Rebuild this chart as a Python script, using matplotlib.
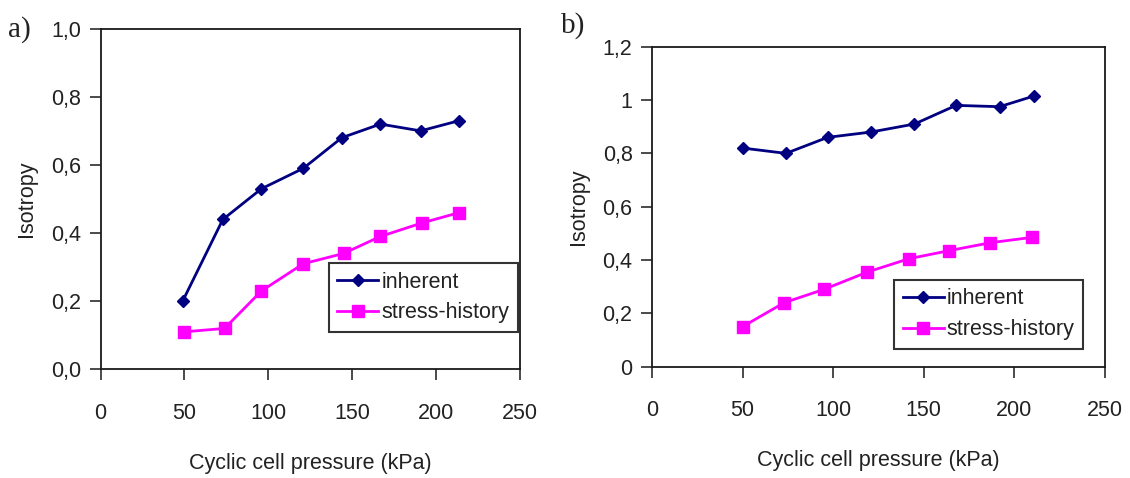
import matplotlib
matplotlib.use("Agg")
import matplotlib.pyplot as plt
from matplotlib import font_manager

names = {f.name for f in font_manager.fontManager.ttflist}
SANS = ['Liberation Sans Narrow', 'Liberation Sans'] if 'Liberation Sans Narrow' in names else ['Liberation Sans']
SERIF = ['Liberation Serif', 'DejaVu Serif']

# ---- data ----
x_a_inh = [49, 73, 96, 121, 144, 167, 191, 214]
y_a_inh = [0.20, 0.44, 0.53, 0.59, 0.68, 0.72, 0.70, 0.73]
x_a_str = [50, 74, 96, 121, 145, 167, 192, 214]
y_a_str = [0.11, 0.12, 0.23, 0.31, 0.34, 0.39, 0.43, 0.46]

x_b_inh = [50, 74, 97, 121, 145, 168, 192, 211]
y_b_inh = [0.82, 0.80, 0.86, 0.88, 0.91, 0.98, 0.975, 1.015]
x_b_str = [50, 73, 95, 119, 142, 164, 187, 210]
y_b_str = [0.15, 0.24, 0.29, 0.355, 0.405, 0.435, 0.465, 0.485]

x_ticks = [0, 50, 100, 150, 200, 250]
y_ticks_a = [0.0, 0.2, 0.4, 0.6, 0.8, 1.0]
y_labels_a = ['0,0', '0,2', '0,4', '0,6', '0,8', '1,0']
y_ticks_b = [0, 0.2, 0.4, 0.6, 0.8, 1.0, 1.2]
y_labels_b = ['0', '0,2', '0,4', '0,6', '0,8', '1', '1,2']

series_names = ['inherent', 'stress-history']
NAVY = '#000080'
MAG = '#FF00FF'
TXT = '#222222'
FS = 15.5

W, H = 1130, 478
fig = plt.figure(figsize=(W / 100, H / 100), dpi=100)

def px_axes(l, r, t, b):
    return fig.add_axes([l / W, 1 - b / H, (r - l) / W, (b - t) / H])

ax_a = px_axes(100.5, 519.5, 28.7, 369.3)
ax_b = px_axes(652, 1104.5, 46.7, 366.7)

def style(ax, yt, yl, ylim, leg_anchor):
    ax.set_xlim(0, 250)
    ax.set_ylim(*ylim)
    ax.set_xticks(x_ticks)
    ax.set_xticklabels([str(v) for v in x_ticks])
    ax.set_yticks(yt)
    ax.set_yticklabels(yl)
    for s in ax.spines.values():
        s.set_linewidth(1.3)
        s.set_color('#1a1a1a')
    ax.tick_params(axis='both', direction='out', length=8, width=1.1, color='#1a1a1a',
                   labelsize=FS, labelcolor=TXT)
    ax.tick_params(axis='x', pad=16)
    ax.tick_params(axis='y', pad=6)
    for lab in ax.get_xticklabels() + ax.get_yticklabels():
        lab.set_family(SANS)
    ax.set_xlabel('Cyclic cell pressure (kPa)', fontsize=FS, family=SANS, color=TXT, labelpad=21)
    ax.set_ylabel('Isotropy', fontsize=FS, family=SANS, color=TXT, labelpad=10)
    leg = ax.legend(loc='lower left', bbox_to_anchor=leg_anchor, borderaxespad=0,
                    frameon=True, fancybox=False, edgecolor='black',
                    prop={'family': SANS, 'size': FS}, handlelength=1.9,
                    handletextpad=0.15, labelspacing=0.45, borderpad=0.4)
    leg.get_frame().set_linewidth(1.5)
    for t in leg.get_texts():
        t.set_color(TXT)

ax_a.plot(x_a_inh, y_a_inh, color=NAVY, lw=2, marker='D', ms=6.5, label=series_names[0])
ax_a.plot(x_a_str, y_a_str, color=MAG, lw=2, marker='s', ms=9, label=series_names[1])
style(ax_a, y_ticks_a, y_labels_a, (0, 1.0), (0.545, 0.11))

ax_b.plot(x_b_inh, y_b_inh, color=NAVY, lw=2, marker='D', ms=6.5, label=series_names[0])
ax_b.plot(x_b_str, y_b_str, color=MAG, lw=2, marker='s', ms=9, label=series_names[1])
style(ax_b, y_ticks_b, y_labels_b, (0, 1.2), (0.535, 0.056))

fig.text(8 / W, 1 - 30 / H, 'a)', family=SERIF, fontsize=21, va='center', ha='left', color=TXT)
fig.text(561 / W, 1 - 26 / H, 'b)', family=SERIF, fontsize=21, va='center', ha='left', color=TXT)

fig.savefig('out.png', dpi=100)
